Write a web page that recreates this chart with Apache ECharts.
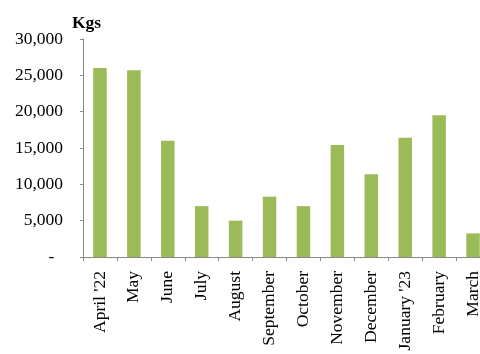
<!DOCTYPE html>
<html>
<head>
<meta charset="utf-8">
<script src="https://cdn.jsdelivr.net/npm/echarts@6/dist/echarts.min.js"></script>
<style>
  html, body { margin: 0; padding: 0; background: #fff; }
  #chart { width: 480px; height: 354px; }
</style>
</head>
<body>
<div id="chart"></div>
<script>
// months, Apr '22 to Mar '23
const months = ["April '22", 'May', 'June', 'July', 'August', 'September', 'October',
  'November', 'December', "January '23", 'February', 'March'];
const kgs = [26000, 25700, 16000, 7000, 5000, 8300, 7000, 15400, 11400, 16400, 19500, 3250];

const font = 'Liberation Serif';

function fmt(v) {
  if (v === 0) return '-  ';
  return v.toLocaleString('en-US');
}

const chart = echarts.init(document.getElementById('chart'), null, { renderer: 'canvas' });
chart.setOption({
  animation: false,
  title: {
    text: 'Kgs',
    left: 67,
    top: 9,
    textStyle: { fontFamily: font, fontSize: 17.5, fontWeight: 'bold', color: '#000' }
  },
  grid: { left: 83, right: -10, top: 39, bottom: 97, outerBoundsMode: 'none' },
  xAxis: {
    type: 'category',
    data: months,
    axisLine: { lineStyle: { color: '#888', width: 1 } },
    axisTick: { show: true, length: 4, lineStyle: { color: '#888' } },
    axisLabel: {
      rotate: 90,
      margin: 14,
      interval: 0,
      fontFamily: font,
      fontSize: 17.5,
      color: '#000'
    }
  },
  yAxis: {
    type: 'value',
    min: 0,
    max: 30000,
    interval: 5000,
    axisLine: { show: true, lineStyle: { color: '#888', width: 1 } },
    axisTick: { show: true, length: 3, lineStyle: { color: '#888' } },
    splitLine: { show: false },
    axisLabel: {
      margin: 20,
      fontFamily: font,
      fontSize: 17.5,
      color: '#000',
      formatter: fmt
    }
  },
  series: [{
    type: 'bar',
    data: kgs,
    barWidth: 13.5,
    itemStyle: { color: '#9BBB59' }
  }]
});
</script>
</body>
</html>
